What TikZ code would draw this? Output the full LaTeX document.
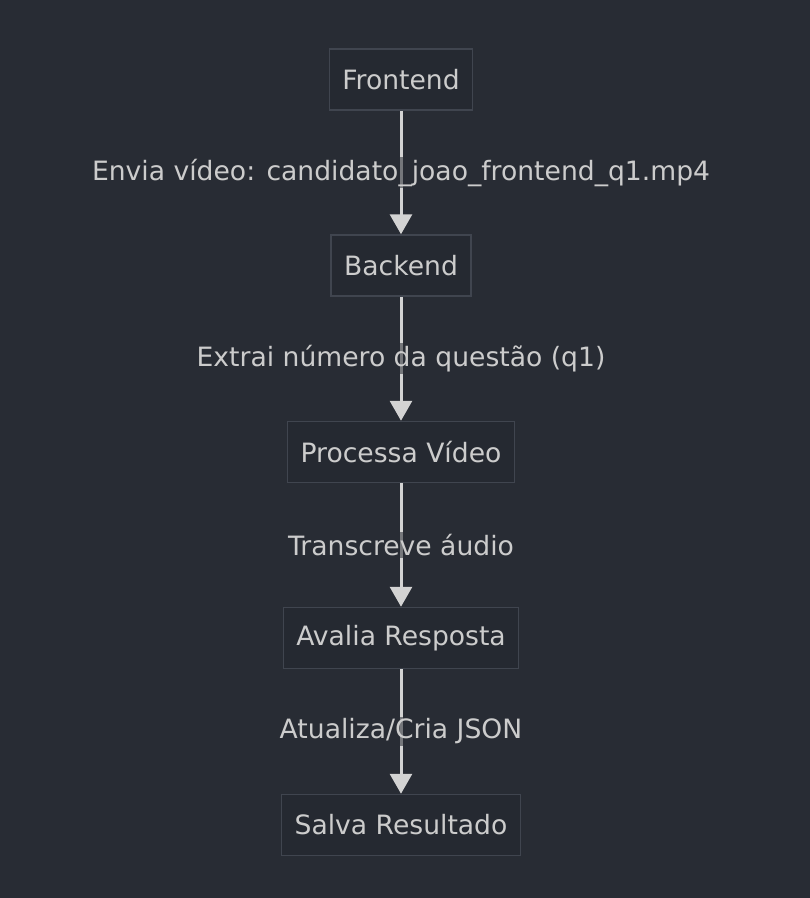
\documentclass[tikz,border=0pt]{standalone}
\usepackage{fontspec}
\setmainfont{DejaVu Sans}
\usetikzlibrary{arrows.meta}
\definecolor{bg}{RGB}{40,44,52}
\definecolor{boxfill}{RGB}{37,41,49}
\definecolor{boxline}{RGB}{64,69,79}
\definecolor{txt}{RGB}{204,204,204}
\definecolor{edge}{RGB}{211,211,211}
\begin{document}
\begin{tikzpicture}[x=1pt,y=-1pt,
  box/.style={draw=boxline, line width=1.5pt, fill=boxfill, text=txt, minimum height=61pt, inner xsep=13pt, font=\fontsize{26.6}{30}\selectfont},
  elabel/.style={fill=bg, fill opacity=0.55, text opacity=1, text=txt, inner sep=2pt, font=\fontsize{26.6}{30}\selectfont},
  conn/.style={draw=edge, line width=3pt, -{Triangle[length=20pt,width=22pt]}}]
\fill[bg] (0,0) rectangle (810,898);
\useasboundingbox (0,0) rectangle (810,898);
\node[box] (fe) at (401,79.5) {Frontend};
\node[box] (be) at (401,265.5) {Backend};
\node[box] (pv) at (401,452) {Processa Vídeo};
\node[box] (ar) at (401,638) {Avalia Resposta};
\node[box] (sr) at (401,825) {Salva Resultado};
\draw[conn] (fe) -- (be) node[midway, elabel] (l1) {Envia vídeo: candidato\_joao\_frontend\_q1.mp4};
\draw[conn] (be) -- (pv) node[midway, elabel] (l2) {Extrai número da questão (q1)};
\draw[conn] (pv) -- (ar) node[midway, elabel] (l3) {Transcreve áudio};
\draw[conn] (ar) -- (sr) node[midway, elabel] (l4) {Atualiza/Cria JSON};
\end{tikzpicture}
\end{document}
